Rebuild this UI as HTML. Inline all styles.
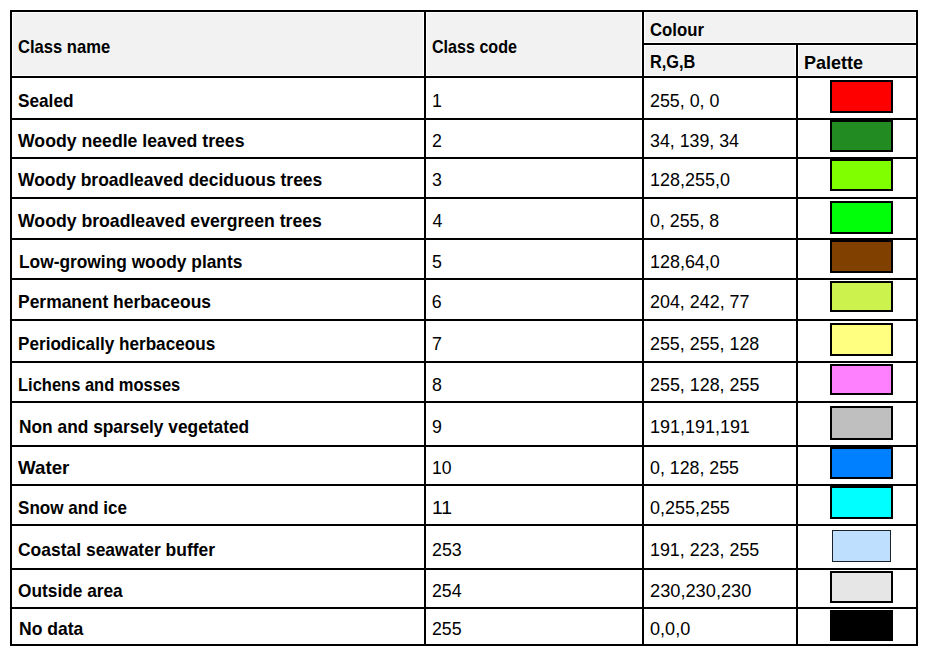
<!DOCTYPE html>
<html><head><meta charset="utf-8"><style>
html,body{margin:0;padding:0;background:#fff;}
body{width:929px;height:656px;position:relative;overflow:hidden;font-family:"Liberation Sans",sans-serif;color:#000;}
.a{position:absolute;}
.k{position:absolute;background:#000;}
.g{position:absolute;background:#f2f2f2;}
.t{position:absolute;white-space:nowrap;line-height:20px;transform-origin:0 0;}
.b{font-weight:bold;font-size:18.4px;}
.r{font-weight:normal;font-size:17.8px;}
.s{position:absolute;box-sizing:border-box;border:2px solid #000;}
</style></head><body>
<div class="g" style="left:13px;top:13px;width:410px;height:62px;"></div>
<div class="g" style="left:427px;top:13px;width:214px;height:62px;"></div>
<div class="g" style="left:645px;top:13px;width:270px;height:29px;"></div>
<div class="g" style="left:645px;top:46px;width:150px;height:29px;"></div>
<div class="g" style="left:799px;top:46px;width:116px;height:29px;"></div>
<div class="k" style="left:10px;top:10px;width:908px;height:2px;"></div>
<div class="k" style="left:10px;top:76px;width:908px;height:2px;"></div>
<div class="k" style="left:10px;top:118px;width:908px;height:2px;"></div>
<div class="k" style="left:10px;top:157px;width:908px;height:2px;"></div>
<div class="k" style="left:10px;top:197px;width:908px;height:2px;"></div>
<div class="k" style="left:10px;top:238px;width:908px;height:2px;"></div>
<div class="k" style="left:10px;top:278px;width:908px;height:2px;"></div>
<div class="k" style="left:10px;top:319px;width:908px;height:2px;"></div>
<div class="k" style="left:10px;top:361px;width:908px;height:2px;"></div>
<div class="k" style="left:10px;top:401px;width:908px;height:2px;"></div>
<div class="k" style="left:10px;top:445px;width:908px;height:2px;"></div>
<div class="k" style="left:10px;top:484px;width:908px;height:2px;"></div>
<div class="k" style="left:10px;top:524px;width:908px;height:2px;"></div>
<div class="k" style="left:10px;top:568px;width:908px;height:2px;"></div>
<div class="k" style="left:10px;top:607px;width:908px;height:2px;"></div>
<div class="k" style="left:10px;top:644px;width:908px;height:2px;"></div>
<div class="k" style="left:642px;top:43px;width:276px;height:2px;"></div>
<div class="k" style="left:10px;top:10px;width:2px;height:636px;"></div>
<div class="k" style="left:424px;top:10px;width:2px;height:636px;"></div>
<div class="k" style="left:642px;top:10px;width:2px;height:636px;"></div>
<div class="k" style="left:916px;top:10px;width:2px;height:636px;"></div>
<div class="k" style="left:796px;top:43px;width:2px;height:603px;"></div>
<div class="s" style="left:830px;top:80px;width:63px;height:33px;background:#ff0000"></div>
<div class="s" style="left:830px;top:120px;width:63px;height:32px;background:#228b22"></div>
<div class="s" style="left:830px;top:159px;width:63px;height:32px;background:#80ff00"></div>
<div class="s" style="left:830px;top:201px;width:63px;height:33px;background:#00ff08"></div>
<div class="s" style="left:830px;top:240px;width:63px;height:33px;background:#804000"></div>
<div class="s" style="left:830px;top:281px;width:63px;height:31px;background:#ccf24d"></div>
<div class="s" style="left:830px;top:323px;width:63px;height:33px;background:#ffff80"></div>
<div class="s" style="left:830px;top:364px;width:63px;height:31px;background:#ff80ff"></div>
<div class="s" style="left:830px;top:406px;width:63px;height:34px;background:#bfbfbf"></div>
<div class="s" style="left:830px;top:447px;width:63px;height:32px;background:#0080ff"></div>
<div class="s" style="left:830px;top:486px;width:63px;height:33px;background:#00ffff"></div>
<div class="s" style="left:832px;top:530px;width:59px;height:32px;background:#bfdfff;border:1px solid #1c2128"></div>
<div class="s" style="left:830px;top:571px;width:63px;height:32px;background:#e6e6e6"></div>
<div class="s" style="left:830px;top:610px;width:63px;height:31px;background:#000000"></div>
<div id="h1" class="t b" style="left:18.35px;top:36.80px;transform:scaleX(0.9013);">Class name</div>
<div id="h2" class="t b" style="left:432.25px;top:36.80px;transform:scaleX(0.8749);">Class code</div>
<div id="h3" class="t b" style="left:650.35px;top:19.71px;transform:scaleX(0.9098);">Colour</div>
<div id="h4" class="t b" style="left:649.95px;top:52.21px;transform:scaleX(0.8867);">R,G,B</div>
<div id="h5" class="t b" style="left:803.60px;top:52.50px;transform:scaleX(0.9798);">Palette</div>
<div id="r0a" class="t b" style="left:17.55px;top:90.71px;transform:scaleX(0.9356);">Sealed</div>
<div id="r0b" class="t r" style="left:432.00px;top:90.71px;">1</div>
<div id="r0c" class="t r" style="left:650.49px;top:90.71px;transform:scaleX(1.0038);">255, 0, 0</div>
<div id="r1a" class="t b" style="left:18.19px;top:131.00px;transform:scaleX(0.9607);">Woody needle leaved trees</div>
<div id="r1b" class="t r" style="left:431.93px;top:131.00px;">2</div>
<div id="r1c" class="t r" style="left:649.64px;top:131.00px;transform:scaleX(0.9997);">34, 139, 34</div>
<div id="r2a" class="t b" style="left:18.19px;top:170.00px;transform:scaleX(0.9492);">Woody broadleaved deciduous trees</div>
<div id="r2b" class="t r" style="left:431.94px;top:170.00px;">3</div>
<div id="r2c" class="t r" style="left:650.27px;top:170.00px;transform:scaleX(1.0096);">128,255,0</div>
<div id="r3a" class="t b" style="left:18.19px;top:210.50px;transform:scaleX(0.9600);">Woody broadleaved evergreen trees</div>
<div id="r3b" class="t r" style="left:432.39px;top:210.50px;">4</div>
<div id="r3c" class="t r" style="left:650.19px;top:210.50px;transform:scaleX(1.0007);">0, 255, 8</div>
<div id="r4a" class="t b" style="left:18.61px;top:251.80px;transform:scaleX(0.9424);">Low-growing woody plants</div>
<div id="r4b" class="t r" style="left:431.91px;top:251.80px;">5</div>
<div id="r4c" class="t r" style="left:650.27px;top:251.80px;transform:scaleX(1.0084);">128,64,0</div>
<div id="r5a" class="t b" style="left:18.26px;top:291.71px;transform:scaleX(0.9490);">Permanent herbaceous</div>
<div id="r5b" class="t r" style="left:431.85px;top:291.71px;">6</div>
<div id="r5c" class="t r" style="left:650.49px;top:291.71px;transform:scaleX(1.0063);">204, 242, 77</div>
<div id="r6a" class="t b" style="left:18.26px;top:333.61px;transform:scaleX(0.9319);">Periodically herbaceous</div>
<div id="r6b" class="t r" style="left:431.91px;top:333.61px;">7</div>
<div id="r6c" class="t r" style="left:650.49px;top:333.61px;transform:scaleX(1.0048);">255, 255, 128</div>
<div id="r7a" class="t b" style="left:18.26px;top:374.71px;transform:scaleX(0.8968);">Lichens and mosses</div>
<div id="r7b" class="t r" style="left:432.06px;top:374.71px;">8</div>
<div id="r7c" class="t r" style="left:650.49px;top:374.71px;transform:scaleX(1.0056);">255, 128, 255</div>
<div id="r8a" class="t b" style="left:18.61px;top:416.71px;transform:scaleX(0.9424);">Non and sparsely vegetated</div>
<div id="r8b" class="t r" style="left:431.94px;top:416.71px;">9</div>
<div id="r8c" class="t r" style="left:650.27px;top:416.71px;transform:scaleX(1.0098);">191,191,191</div>
<div id="r9a" class="t b" style="left:18.19px;top:457.71px;transform:scaleX(1.0182);">Water</div>
<div id="r9b" class="t r" style="left:431.84px;top:457.71px;transform:scaleX(0.9902);">10</div>
<div id="r9c" class="t r" style="left:650.19px;top:457.71px;transform:scaleX(0.9998);">0, 128, 255</div>
<div id="r10a" class="t b" style="left:17.79px;top:497.91px;transform:scaleX(0.9278);">Snow and ice</div>
<div id="r10b" class="t r" style="left:431.64px;top:497.91px;transform:scaleX(1.0922);">11</div>
<div id="r10c" class="t r" style="left:650.19px;top:497.91px;transform:scaleX(1.0095);">0,255,255</div>
<div id="r11a" class="t b" style="left:17.60px;top:540.00px;transform:scaleX(0.9496);">Coastal seawater buffer</div>
<div id="r11b" class="t r" style="left:431.79px;top:540.00px;transform:scaleX(1.0044);">253</div>
<div id="r11c" class="t r" style="left:650.27px;top:540.00px;transform:scaleX(1.0044);">191, 223, 255</div>
<div id="r12a" class="t b" style="left:18.37px;top:581.00px;transform:scaleX(0.9400);">Outside area</div>
<div id="r12b" class="t r" style="left:431.93px;top:581.00px;">254</div>
<div id="r12c" class="t r" style="left:650.49px;top:581.00px;transform:scaleX(1.0250);">230,230,230</div>
<div id="r13a" class="t b" style="left:18.61px;top:619.00px;transform:scaleX(0.9547);">No data</div>
<div id="r13b" class="t r" style="left:431.93px;top:619.00px;">255</div>
<div id="r13c" class="t r" style="left:650.19px;top:619.00px;transform:scaleX(1.0180);">0,0,0</div>
</body></html>
